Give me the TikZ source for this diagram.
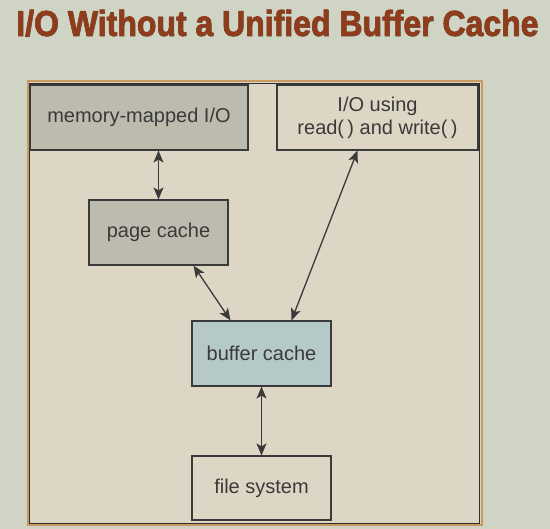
\documentclass[tikz,border=0pt]{standalone}
\usepackage{fontspec}
\setmainfont{Liberation Sans}
\newfontfamily\titlefont[FakeBold=1.6]{Liberation Sans Bold}
\usetikzlibrary{arrows.meta}
\definecolor{pagebg}{HTML}{D0D4C5}
\definecolor{framebg}{HTML}{DDD6C5}
\definecolor{frametan}{HTML}{C9995F}
\definecolor{boxgray}{HTML}{BDBBAE}
\definecolor{boxblue}{HTML}{B5C9C9}
\definecolor{titlecol}{HTML}{8E3C1C}
\definecolor{shadowcol}{HTML}{6E6A5E}
\definecolor{inkcol}{HTML}{3A3A3A}
\newcommand{\titletext}{I/O Without a Unified Buffer Cache}
\begin{document}
\begin{tikzpicture}[x=1pt,y=-1pt,
  box/.style={draw=inkcol,line width=1.2pt,inner sep=0pt,text=inkcol,font=\fontsize{20}{23}\selectfont,align=center},
  tip/.tip={Stealth[length=12pt,width=10pt,inset=3pt]},
  link/.style={draw=inkcol,line width=1.3pt,tip-tip}]
\useasboundingbox (0,0) rectangle (550,529);
\fill[pagebg] (0,0) rectangle (550,529);
% frame
\draw[frametan,line width=2pt,fill=framebg] (27.5,81.5) rectangle (481.5,525.5);
\draw[inkcol!80!black,line width=0.9pt] (29.5,83.5) rectangle (479.5,523.5);
% title (with its drop shadow)
\node[anchor=south west,inner sep=0pt] (title) at (16,37)
  {\resizebox{522pt}{26pt}{\titlefont\makebox[0pt][l]{\kern0.09pt\raisebox{-0.09pt}{\color{shadowcol}\titletext}}\color{titlecol}\titletext}};
% boxes
\node[box,fill=boxgray,minimum width=218pt,minimum height=65pt] (mmio) at (139,117.5) {memory-mapped I/O};
\node[box,fill=framebg,minimum width=201pt,minimum height=65pt] (rw) at (377.5,117.5) {I/O using\\read(\,) and write(\,)};
\node[box,fill=boxgray,minimum width=139pt,minimum height=65pt] (pc) at (158.5,232.5) {page cache};
\node[box,fill=boxblue,minimum width=139pt,minimum height=65pt] (bc) at (261.5,353.5) {buffer cache};
\node[box,fill=framebg,minimum width=139pt,minimum height=64pt] (fs) at (261.5,488) {file system};
% connectors
\draw[link] (mmio.south -| pc.north) -- (pc.north);
\draw[link] ([xshift=35pt]pc.south) -- ([xshift=-31pt]bc.north);
\draw[link] ([xshift=-20pt]rw.south) -- ([xshift=30pt]bc.north);
\draw[link] (bc.south) -- (fs.north);
\end{tikzpicture}
\end{document}
